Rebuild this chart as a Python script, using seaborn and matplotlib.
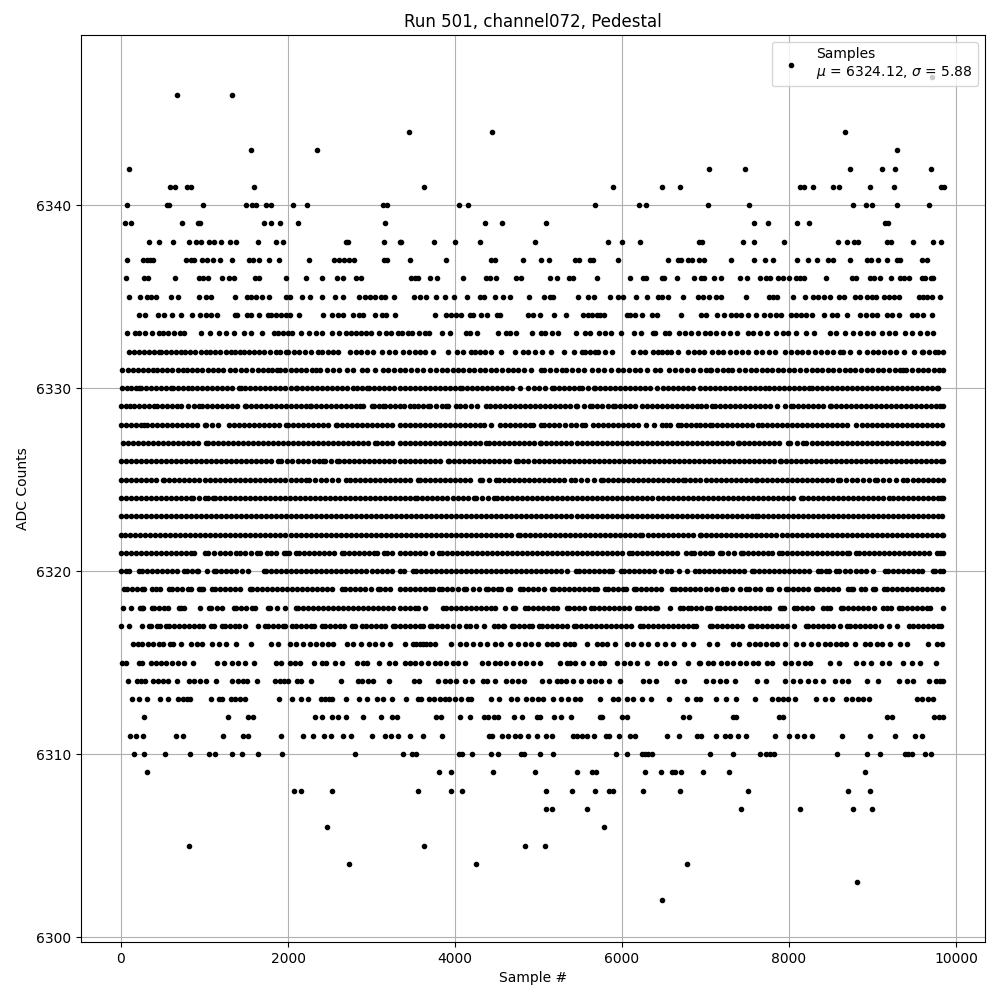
import pandas as pd
import matplotlib
matplotlib.use("Agg")
import matplotlib.pyplot as plt
import seaborn as sns

# sample numbers, one list per ADC level
s6347 = [9716]
s6346 = [668, 1328]
s6344 = [3448, 4444, 8672]
s6343 = [1556, 2348, 9296]
s6342 = [92, 7040, 7472, 8732, 9116, 9272, 9704]
s6341 = [584, 644, 792, 840, 1592, 3628, 5896, 6484, 6700, 8136, 8176, 8288, 8532, 8600, 8972, 9260, 9816, 9856]
s6340 = [68, 552, 572, 980, 1496, 1564, 1620, 1732, 1796, 2060, 2228, 3140, 3188, 4048, 4156, 5680, 6208, 6292, 7028, 7520, 8768, 8924, 8996, 9296, 9680]
s6339 = [52, 120, 728, 920, 952, 1712, 1796, 1904, 2120, 3164, 4360, 4564, 5092, 7580, 7748, 8096, 8240, 9148, 9180]
s6338 = [332, 452, 620, 812, 896, 956, 1048, 1116, 1196, 1304, 1376, 1640, 1856, 1940, 2692, 2724, 3152, 3340, 3356, 3748, 4000, 4300, 4960, 5836, 6004, 6220, 6924, 6960, 7448, 7580, 7940, 8588, 8696, 8780, 8832, 9168, 9220, 9488, 9728, 9824]
s6337 = [68, 260, 308, 348, 388, 780, 840, 880, 968, 1028, 1100, 1184, 1328, 1532, 1580, 1652, 1772, 1892, 2252, 2552, 2612, 2672, 2732, 2788, 3152, 3180, 3460, 3892, 4436, 4476, 4816, 5032, 5128, 5436, 5488, 5616, 5648, 5956, 6556, 6676, 6704, 6796, 6840, 6920, 6980, 7304, 7580, 7712, 7808, 8096, 8228, 8336, 8468, 8528, 8732, 8936, 8976, 9064, 9176, 9288, 9328, 9588, 9656]
s6336 = [56, 280, 328, 644, 936, 980, 1040, 1212, 1292, 1348, 1604, 1652, 1976, 2216, 2408, 2588, 2660, 2820, 2880, 3476, 3516, 3556, 3700, 3784, 4096, 4376, 4416, 4492, 4732, 4792, 5140, 5224, 5368, 5416, 5704, 6100, 6256, 6288, 6476, 6504, 6664, 6868, 6940, 6976, 7100, 7180, 7412, 7496, 7652, 7720, 7768, 7868, 7928, 7996, 8080, 8128, 8184, 8444, 8756, 8808, 8968, 9016, 9084, 9224, 9328, 9376, 9436, 9588, 9628, 9696, 9728]
s6335 = [100, 224, 312, 360, 416, 596, 680, 932, 1020, 1080, 1364, 1508, 1560, 1620, 1692, 1772, 1980, 2028, 2168, 2264, 2408, 2564, 2660, 2852, 2928, 2984, 3040, 3116, 3164, 3272, 3508, 3580, 3652, 3768, 3884, 3988, 4144, 4300, 4348, 4480, 4576, 4660, 4888, 5068, 5136, 5176, 5468, 5596, 5668, 5860, 5956, 6016, 6172, 6304, 6436, 6476, 6548, 6736, 6908, 6968, 7040, 7120, 7188, 7484, 7756, 7808, 7856, 8048, 8192, 8288, 8348, 8416, 8492, 8596, 8656, 8796, 8856, 8928, 8988, 9040, 9136, 9196, 9256, 9316, 9560, 9608, 9656, 9712, 9812]
s6334 = [212, 292, 444, 520, 608, 716, 856, 952, 1012, 1080, 1148, 1360, 1392, 1508, 1552, 1652, 1760, 1796, 1860, 1920, 1972, 2020, 2132, 2420, 2528, 2600, 2660, 2780, 2852, 2900, 3044, 3120, 3172, 3284, 3760, 3896, 3956, 4016, 4076, 4184, 4216, 4316, 4384, 4504, 4544, 4876, 4936, 5016, 5188, 5328, 5536, 5596, 5636, 5696, 5736, 5784, 6056, 6096, 6160, 6244, 6364, 6424, 6712, 6940, 7008, 7136, 7220, 7308, 7368, 7428, 7508, 7604, 7696, 7768, 7840, 7908, 8020, 8088, 8148, 8208, 8280, 8420, 8520, 8580, 8692, 8852, 8920, 8988, 9048, 9176, 9228, 9316, 9468, 9528, 9608, 9708]
s6333 = [68, 172, 212, 288, 368, 460, 500, 568, 632, 712, 760, 964, 1060, 1172, 1252, 1352, 1472, 1560, 1692, 1832, 1880, 1940, 2000, 2052, 2152, 2248, 2332, 2404, 2528, 2612, 2692, 2760, 2812, 2880, 2940, 2988, 3084, 3172, 3228, 3312, 3368, 3436, 3488, 3564, 3636, 3688, 3844, 3940, 4128, 4184, 4264, 4520, 4608, 4656, 4732, 4924, 5032, 5080, 5160, 5236, 5452, 5560, 5616, 5728, 5796, 5864, 5992, 6148, 6232, 6368, 6396, 6516, 6560, 6688, 6756, 6828, 6908, 6988, 7048, 7120, 7208, 7288, 7376, 7508, 7568, 7648, 7736, 7848, 7928, 7990, 8080, 8208, 8296, 8488, 8568, 8668, 8768, 8848, 8928, 9008, 9108, 9200, 9268, 9388, 9468, 9568, 9648, 9728]
s6332 = [92, 150, 210, 270, 332, 400, 452, 480, 540, 600, 655, 715, 770, 830, 890, 955, 1020, 1060, 1125, 1190, 1255, 1320, 1360, 1420, 1468, 1530, 1590, 1650, 1710, 1790, 1852, 1900, 1980, 2004, 2070, 2135, 2200, 2280, 2360, 2412, 2480, 2540, 2600, 2748, 2810, 2880, 2950, 3012, 3120, 3204, 3280, 3376, 3450, 3520, 3584, 3636, 3736, 3912, 4024, 4100, 4196, 4236, 4300, 4356, 4436, 4552, 4720, 4816, 4880, 4960, 5036, 5152, 5308, 5424, 5516, 5556, 5620, 5676, 5716, 5800, 5876, 6136, 6210, 6276, 6376, 6436, 6476, 6536, 6584, 6668, 6796, 6860, 6916, 6976, 7080, 7148, 7208, 7290, 7360, 7440, 7508, 7608, 7680, 7760, 7832, 7948, 8020, 8090, 8160, 8228, 8308, 8380, 8450, 8530, 8608, 8648, 8736, 8840, 8928, 9000, 9070, 9140, 9208, 9276, 9380, 9496, 9588, 9608, 9680, 9748, 9788, 9840]
s6331 = [8, 80, 140, 200, 260, 320, 380, 428, 490, 550, 610, 680, 740, 788, 850, 915, 975, 1040, 1100, 1160, 1220, 1300, 1370, 1440, 1500, 1572, 1635, 1700, 1765, 1810, 1868, 1900, 1965, 2030, 2095, 2160, 2220, 2285, 2340, 2380, 2468, 2540, 2610, 2708, 2780, 2892, 2952, 3040, 3132, 3200, 3270, 3340, 3400, 3470, 3540, 3620, 3704, 3776, 3840, 3905, 3970, 4035, 4100, 4165, 4230, 4295, 4360, 4430, 4495, 4560, 4630, 4695, 4760, 4824, 4916, 5024, 5064, 5140, 5210, 5276, 5324, 5400, 5475, 5544, 5636, 5710, 5790, 5870, 5956, 6016, 6080, 6150, 6220, 6300, 6396, 6456, 6568, 6640, 6705, 6775, 6850, 6936, 7000, 7048, 7068, 7135, 7205, 7265, 7320, 7400, 7468, 7540, 7610, 7680, 7736, 7800, 7865, 7930, 8000, 8065, 8130, 8200, 8270, 8336, 8396, 8465, 8530, 8600, 8665, 8730, 8795, 8860, 8930, 8995, 9060, 9130, 9195, 9265, 9330, 9368, 9400, 9470, 9540, 9605, 9670, 9735, 9800, 9840]
s6330 = [12, 70, 125, 180, 220, 240, 300, 360, 420, 480, 540, 600, 620, 680, 740, 800, 855, 915, 975, 1035, 1095, 1155, 1215, 1275, 1335, 1412, 1432, 1490, 1550, 1610, 1670, 1730, 1790, 1850, 1910, 1970, 2030, 2100, 2108, 2165, 2225, 2285, 2345, 2405, 2465, 2525, 2585, 2645, 2705, 2780, 2828, 2890, 2948, 2972, 3030, 3090, 3150, 3210, 3275, 3340, 3400, 3460, 3520, 3580, 3640, 3700, 3760, 3820, 3876, 3936, 4000, 4056, 4080, 4140, 4200, 4260, 4320, 4380, 4440, 4500, 4560, 4620, 4680, 4776, 4876, 4940, 5010, 5080, 5156, 5184, 5245, 5305, 5365, 5425, 5484, 5516, 5590, 5664, 5676, 5740, 5800, 5860, 5920, 5980, 6040, 6100, 6160, 6220, 6280, 6340, 6416, 6488, 6550, 6610, 6670, 6730, 6790, 6850, 6936, 6990, 7050, 7110, 7170, 7230, 7290, 7350, 7410, 7470, 7530, 7590, 7650, 7708, 7760, 7820, 7880, 7940, 8000, 8060, 8120, 8180, 8240, 8276, 8335, 8395, 8455, 8515, 8575, 8635, 8695, 8755, 8815, 8875, 8935, 8995, 9055, 9115, 9175, 9235, 9295, 9355, 9415, 9475, 9535, 9595, 9655, 9715, 9775, 9790]
s6329 = [0, 55, 110, 160, 220, 280, 340, 400, 428, 490, 550, 610, 670, 720, 800, 870, 940, 968, 1030, 1090, 1150, 1210, 1270, 1330, 1390, 1480, 1500, 1560, 1620, 1680, 1740, 1800, 1860, 1920, 1980, 2040, 2100, 2160, 2220, 2268, 2280, 2340, 2400, 2460, 2520, 2580, 2640, 2700, 2760, 2820, 2868, 2900, 3000, 3028, 3085, 3132, 3160, 3220, 3280, 3340, 3395, 3456, 3504, 3560, 3620, 3676, 3704, 3770, 3840, 3896, 3916, 4008, 4056, 4120, 4190, 4260, 4368, 4420, 4476, 4536, 4600, 4660, 4720, 4780, 4840, 4900, 4960, 5020, 5080, 5140, 5200, 5260, 5320, 5380, 5448, 5464, 5540, 5616, 5636, 5700, 5760, 5830, 5896, 5916, 5980, 6040, 6100, 6156, 6236, 6300, 6360, 6420, 6480, 6540, 6600, 6660, 6720, 6780, 6840, 6896, 6950, 7010, 7080, 7108, 7170, 7230, 7290, 7350, 7410, 7470, 7530, 7590, 7650, 7710, 7770, 7856, 7948, 8028, 8048, 8110, 8170, 8230, 8290, 8350, 8410, 8488, 8500, 8560, 8620, 8680, 8740, 8800, 8860, 8920, 8980, 9040, 9100, 9160, 9220, 9280, 9340, 9400, 9460, 9520, 9580, 9640, 9700, 9760, 9810, 9850]
s6328 = [-4, 60, 120, 180, 240, 280, 308, 370, 430, 490, 550, 610, 670, 730, 790, 850, 910, 1000, 1020, 1090, 1160, 1292, 1350, 1410, 1470, 1530, 1590, 1650, 1710, 1770, 1830, 1890, 1972, 2000, 2060, 2120, 2180, 2240, 2300, 2360, 2420, 2480, 2572, 2588, 2650, 2710, 2770, 2830, 2890, 2950, 3010, 3070, 3130, 3190, 3250, 3340, 3400, 3460, 3520, 3580, 3640, 3700, 3760, 3816, 3876, 3940, 4000, 4060, 4120, 4180, 4240, 4296, 4352, 4436, 4536, 4596, 4660, 4720, 4780, 4840, 4896, 4936, 5024, 5064, 5130, 5190, 5250, 5320, 5390, 5450, 5516, 5560, 5648, 5710, 5770, 5830, 5890, 5950, 6010, 6070, 6130, 6190, 6288, 6384, 6476, 6524, 6576, 6676, 6708, 6770, 6830, 6890, 6936, 6990, 7048, 7076, 7140, 7200, 7260, 7320, 7380, 7440, 7500, 7560, 7628, 7680, 7740, 7800, 7860, 7920, 7980, 8040, 8100, 8160, 8220, 8280, 8340, 8400, 8460, 8520, 8580, 8640, 8700, 8808, 8872, 8930, 8990, 9050, 9110, 9170, 9230, 9290, 9350, 9410, 9470, 9530, 9590, 9650, 9710, 9770, 9830]
s6327 = [20, 80, 140, 200, 260, 320, 380, 440, 500, 560, 620, 680, 740, 800, 860, 920, 1020, 1040, 1100, 1160, 1220, 1280, 1340, 1400, 1460, 1520, 1580, 1640, 1700, 1760, 1820, 1880, 1940, 2000, 2060, 2120, 2180, 2240, 2300, 2360, 2420, 2480, 2540, 2600, 2660, 2720, 2780, 2840, 2900, 2960, 3040, 3068, 3130, 3190, 3250, 3340, 3400, 3460, 3520, 3580, 3640, 3700, 3760, 3820, 3880, 3940, 4000, 4060, 4120, 4180, 4240, 4300, 4376, 4408, 4470, 4530, 4590, 4650, 4710, 4770, 4830, 4890, 4950, 5016, 5032, 5095, 5155, 5215, 5275, 5335, 5395, 5455, 5515, 5575, 5635, 5695, 5755, 5815, 5875, 5935, 5995, 6055, 6115, 6175, 6235, 6295, 6355, 6415, 6475, 6535, 6595, 6655, 6715, 6775, 6835, 6895, 6955, 7015, 7075, 7135, 7195, 7255, 7315, 7388, 7400, 7460, 7520, 7580, 7640, 7700, 7760, 7820, 7880, 7988, 8008, 8090, 8168, 8208, 8270, 8330, 8390, 8450, 8510, 8570, 8630, 8690, 8750, 8810, 8870, 8930, 8990, 9050, 9110, 9170, 9230, 9290, 9350, 9410, 9470, 9530, 9590, 9650, 9710, 9770, 9830, 9850]
s6326 = [0, 60, 120, 180, 240, 300, 360, 420, 480, 540, 600, 660, 720, 780, 840, 900, 960, 1020, 1080, 1140, 1200, 1260, 1320, 1380, 1440, 1500, 1560, 1620, 1680, 1740, 1800, 1880, 1920, 1985, 2050, 2115, 2180, 2245, 2310, 2370, 2420, 2444, 2510, 2588, 2612, 2675, 2735, 2795, 2855, 2915, 2975, 3035, 3095, 3155, 3215, 3275, 3340, 3400, 3460, 3520, 3580, 3640, 3700, 3760, 3820, 3916, 3928, 3990, 4050, 4110, 4170, 4230, 4290, 4344, 4408, 4470, 4530, 4590, 4650, 4736, 4756, 4820, 4880, 4940, 5000, 5060, 5120, 5180, 5240, 5300, 5360, 5420, 5480, 5540, 5600, 5660, 5720, 5780, 5840, 5900, 5960, 6020, 6080, 6140, 6200, 6260, 6320, 6380, 6440, 6500, 6560, 6620, 6680, 6740, 6800, 6860, 6920, 6980, 7040, 7100, 7160, 7220, 7280, 7340, 7400, 7460, 7520, 7580, 7640, 7700, 7760, 7820, 7888, 7904, 7965, 8025, 8085, 8145, 8205, 8265, 8325, 8385, 8445, 8505, 8565, 8625, 8685, 8745, 8805, 8865, 8925, 8985, 9045, 9105, 9165, 9225, 9285, 9345, 9405, 9465, 9525, 9585, 9645, 9705, 9765, 9825, 9845]
s6325 = [0, 60, 120, 180, 240, 300, 360, 420, 508, 520, 580, 640, 700, 760, 820, 880, 940, 1000, 1060, 1120, 1180, 1240, 1300, 1360, 1420, 1480, 1540, 1600, 1660, 1720, 1780, 1840, 1908, 1960, 2030, 2100, 2160, 2220, 2252, 2320, 2390, 2460, 2530, 2600, 2700, 2740, 2800, 2860, 2920, 2980, 3040, 3100, 3160, 3220, 3280, 3340, 3400, 3460, 3556, 3584, 3645, 3705, 3765, 3825, 3885, 3945, 4005, 4065, 4125, 4185, 4296, 4328, 4410, 4496, 4524, 4585, 4645, 4705, 4765, 4825, 4885, 4945, 5005, 5065, 5125, 5185, 5245, 5305, 5388, 5436, 5510, 5580, 5660, 5748, 5768, 5830, 5890, 5950, 6010, 6070, 6130, 6190, 6250, 6310, 6370, 6430, 6490, 6550, 6610, 6670, 6728, 6756, 6820, 6880, 6936, 7000, 7060, 7120, 7180, 7240, 7300, 7360, 7420, 7480, 7540, 7600, 7616, 7680, 7740, 7800, 7860, 7920, 7980, 8040, 8100, 8160, 8220, 8280, 8340, 8400, 8460, 8520, 8588, 8608, 8680, 8750, 8820, 8890, 8960, 9028, 9056, 9130, 9200, 9280, 9368, 9416, 9480, 9540, 9600, 9660, 9720, 9780, 9845]
s6324 = [0, 60, 120, 180, 240, 300, 360, 420, 480, 540, 600, 660, 720, 780, 840, 860, 930, 1008, 1040, 1100, 1120, 1180, 1240, 1300, 1360, 1420, 1480, 1540, 1600, 1660, 1720, 1780, 1840, 1900, 1960, 2020, 2080, 2140, 2200, 2260, 2320, 2380, 2440, 2500, 2560, 2620, 2680, 2740, 2800, 2860, 2920, 2980, 3040, 3100, 3160, 3220, 3280, 3340, 3400, 3460, 3516, 3544, 3610, 3670, 3730, 3790, 3850, 3910, 3970, 4030, 4096, 4156, 4224, 4248, 4320, 4390, 4464, 4504, 4565, 4625, 4685, 4745, 4805, 4865, 4925, 4985, 5045, 5105, 5165, 5225, 5285, 5345, 5405, 5465, 5525, 5585, 5645, 5705, 5765, 5825, 5885, 5945, 6005, 6065, 6125, 6185, 6245, 6305, 6365, 6425, 6485, 6545, 6605, 6665, 6725, 6785, 6845, 6905, 6965, 7025, 7085, 7145, 7205, 7265, 7325, 7385, 7445, 7505, 7565, 7625, 7685, 7745, 7805, 7865, 7925, 7985, 8045, 8148, 8168, 8230, 8290, 8350, 8410, 8470, 8530, 8590, 8650, 8710, 8770, 8830, 8890, 8950, 9010, 9070, 9130, 9196, 9248, 9310, 9370, 9430, 9490, 9550, 9610, 9670, 9730, 9788, 9816, 9850]
s6323 = [0, 55, 115, 175, 235, 295, 355, 415, 475, 535, 595, 655, 715, 775, 835, 895, 955, 1015, 1075, 1135, 1195, 1255, 1315, 1375, 1435, 1495, 1555, 1615, 1675, 1735, 1795, 1855, 1915, 1975, 2035, 2095, 2155, 2215, 2275, 2335, 2395, 2455, 2515, 2575, 2635, 2695, 2755, 2815, 2875, 2935, 2995, 3055, 3115, 3175, 3235, 3295, 3355, 3415, 3475, 3535, 3595, 3655, 3715, 3775, 3835, 3895, 3955, 4015, 4075, 4135, 4195, 4255, 4315, 4375, 4435, 4495, 4555, 4615, 4675, 4735, 4795, 4855, 4915, 4975, 5035, 5095, 5155, 5215, 5275, 5335, 5395, 5455, 5515, 5575, 5635, 5695, 5755, 5815, 5875, 5935, 5995, 6055, 6115, 6175, 6235, 6295, 6355, 6415, 6475, 6535, 6595, 6655, 6715, 6775, 6835, 6895, 6955, 7015, 7075, 7135, 7195, 7255, 7315, 7375, 7435, 7495, 7555, 7608, 7628, 7690, 7750, 7810, 7870, 7930, 7990, 8050, 8110, 8170, 8230, 8290, 8350, 8410, 8470, 8530, 8590, 8650, 8710, 8770, 8830, 8890, 8950, 9010, 9070, 9130, 9190, 9250, 9310, 9370, 9430, 9490, 9550, 9610, 9670, 9730, 9790, 9835]
s6322 = [0, 50, 112, 170, 230, 290, 350, 410, 470, 530, 590, 650, 710, 770, 830, 890, 950, 1010, 1070, 1130, 1190, 1250, 1310, 1370, 1430, 1490, 1550, 1610, 1670, 1730, 1790, 1850, 1910, 1970, 2030, 2090, 2150, 2210, 2270, 2330, 2390, 2450, 2510, 2570, 2630, 2690, 2750, 2810, 2870, 2930, 2990, 3050, 3110, 3170, 3230, 3290, 3350, 3410, 3470, 3530, 3590, 3650, 3710, 3770, 3830, 3890, 3950, 4010, 4070, 4130, 4190, 4250, 4310, 4370, 4430, 4490, 4550, 4610, 4670, 4756, 4776, 4840, 4900, 4960, 5020, 5080, 5140, 5200, 5260, 5320, 5380, 5440, 5500, 5560, 5620, 5680, 5740, 5800, 5860, 5920, 5980, 6040, 6100, 6160, 6216, 6244, 6310, 6370, 6430, 6490, 6550, 6610, 6670, 6730, 6790, 6850, 6928, 6948, 7010, 7070, 7130, 7190, 7250, 7310, 7370, 7430, 7490, 7550, 7610, 7670, 7730, 7790, 7850, 7910, 7970, 8030, 8090, 8150, 8210, 8270, 8330, 8390, 8450, 8510, 8570, 8630, 8690, 8750, 8810, 8870, 8930, 8990, 9050, 9110, 9170, 9230, 9290, 9350, 9410, 9470, 9530, 9590, 9650, 9710, 9770, 9830, 9850]
s6321 = [0, 60, 120, 180, 240, 300, 360, 420, 480, 540, 600, 660, 720, 780, 840, 880, 1000, 1040, 1110, 1180, 1250, 1300, 1380, 1420, 1490, 1560, 1630, 1670, 1752, 1800, 1856, 1952, 1980, 2008, 2100, 2130, 2190, 2250, 2310, 2370, 2430, 2490, 2556, 2644, 2675, 2735, 2795, 2855, 2915, 2975, 3035, 3060, 3152, 3185, 3245, 3340, 3400, 3460, 3520, 3580, 3640, 3724, 3808, 3840, 3900, 3960, 4020, 4080, 4140, 4200, 4260, 4320, 4380, 4440, 4500, 4560, 4620, 4680, 4740, 4800, 4860, 4920, 4980, 5040, 5100, 5160, 5220, 5280, 5340, 5400, 5460, 5520, 5580, 5640, 5700, 5760, 5820, 5880, 5940, 6004, 6088, 6120, 6180, 6240, 6300, 6360, 6420, 6480, 6540, 6600, 6664, 6768, 6828, 6860, 6936, 6990, 7050, 7076, 7168, 7200, 7270, 7336, 7420, 7450, 7510, 7570, 7630, 7690, 7750, 7796, 7880, 7910, 7970, 8030, 8090, 8150, 8210, 8270, 8330, 8390, 8450, 8510, 8570, 8630, 8690, 8716, 8808, 8840, 8900, 8960, 9020, 9080, 9140, 9200, 9260, 9320, 9380, 9440, 9500, 9560, 9620, 9676, 9772, 9810, 9850]
s6320 = [0, 60, 100, 220, 250, 310, 370, 430, 490, 550, 610, 668, 760, 790, 850, 910, 928, 1028, 1112, 1140, 1200, 1260, 1320, 1380, 1448, 1520, 1708, 1740, 1800, 1860, 1920, 1980, 2040, 2100, 2160, 2220, 2280, 2340, 2400, 2460, 2520, 2580, 2640, 2700, 2760, 2820, 2880, 2940, 3000, 3060, 3120, 3180, 3240, 3340, 3384, 3496, 3530, 3590, 3650, 3710, 3770, 3830, 3890, 3950, 4010, 4070, 4130, 4190, 4250, 4310, 4370, 4430, 4490, 4550, 4610, 4670, 4730, 4790, 4850, 4910, 4970, 5030, 5090, 5150, 5210, 5270, 5344, 5448, 5480, 5540, 5600, 5660, 5720, 5780, 5840, 5884, 5988, 6020, 6080, 6140, 6200, 6260, 6320, 6380, 6464, 6540, 6584, 6680, 6784, 6876, 6920, 6980, 7040, 7100, 7160, 7220, 7280, 7340, 7400, 7456, 7552, 7580, 7640, 7700, 7760, 7820, 7880, 7940, 8000, 8060, 8120, 8180, 8236, 8344, 8380, 8440, 8476, 8560, 8600, 8670, 8736, 8808, 8868, 8916, 9008, 9152, 9190, 9250, 9310, 9370, 9430, 9490, 9550, 9596, 9720, 9750, 9810, 9840]
s6319 = [40, 70, 130, 190, 250, 276, 372, 420, 468, 580, 610, 670, 730, 800, 836, 932, 960, 988, 1092, 1120, 1180, 1240, 1300, 1360, 1428, 1540, 1570, 1630, 1690, 1750, 1810, 1870, 1930, 1990, 2050, 2110, 2170, 2230, 2290, 2350, 2410, 2470, 2528, 2652, 2680, 2740, 2800, 2860, 2920, 2988, 3072, 3100, 3160, 3220, 3340, 3400, 3460, 3520, 3580, 3640, 3700, 3736, 3808, 3840, 3900, 3960, 4032, 4112, 4136, 4220, 4284, 4368, 4400, 4460, 4520, 4552, 4632, 4656, 4776, 4810, 4870, 4930, 4990, 5064, 5156, 5190, 5250, 5310, 5370, 5430, 5490, 5550, 5610, 5670, 5704, 5800, 5830, 5890, 5950, 6010, 6052, 6140, 6170, 6230, 6290, 6350, 6410, 6464, 6600, 6630, 6690, 6750, 6810, 6870, 6936, 7000, 7060, 7136, 7212, 7250, 7320, 7408, 7488, 7520, 7590, 7648, 7752, 7790, 7876, 7960, 7990, 8050, 8110, 8170, 8224, 8320, 8350, 8410, 8470, 8530, 8584, 8704, 8740, 8768, 8868, 8908, 9008, 9024, 9140, 9170, 9230, 9290, 9350, 9410, 9470, 9530, 9590, 9650, 9710, 9770, 9836]
s6318 = [20, 120, 232, 250, 268, 372, 400, 460, 520, 568, 692, 720, 756, 948, 1052, 1080, 1150, 1208, 1352, 1380, 1440, 1500, 1570, 1608, 1760, 1788, 1872, 1968, 2092, 2120, 2180, 2240, 2300, 2360, 2420, 2480, 2540, 2600, 2660, 2720, 2780, 2840, 2900, 2960, 3020, 3080, 3140, 3200, 3260, 3340, 3400, 3460, 3520, 3552, 3640, 3856, 3890, 3950, 4010, 4070, 4130, 4190, 4250, 4310, 4370, 4430, 4484, 4600, 4696, 4716, 4840, 4870, 4930, 4990, 5050, 5110, 5170, 5216, 5340, 5370, 5430, 5490, 5544, 5628, 5660, 5720, 5780, 5840, 5900, 5960, 6020, 6084, 6180, 6210, 6270, 6330, 6390, 6424, 6580, 6696, 6730, 6790, 6824, 6888, 6948, 7020, 7048, 7140, 7170, 7230, 7290, 7350, 7410, 7470, 7530, 7590, 7650, 7710, 7756, 7888, 7910, 7936, 8060, 8090, 8150, 8210, 8276, 8412, 8450, 8488, 8620, 8650, 8710, 8770, 8830, 8890, 8950, 9016, 9128, 9170, 9216, 9320, 9350, 9410, 9470, 9530, 9590, 9650, 9688, 9848]
s6317 = [0, 92, 248, 332, 360, 430, 468, 540, 570, 630, 690, 750, 810, 870, 930, 980, 1072, 1108, 1204, 1240, 1300, 1370, 1408, 1488, 1640, 1724, 1760, 1820, 1880, 1940, 1968, 2052, 2090, 2150, 2210, 2270, 2308, 2404, 2440, 2500, 2560, 2620, 2668, 2772, 2800, 2892, 2930, 2990, 3050, 3110, 3156, 3252, 3280, 3340, 3400, 3460, 3520, 3580, 3616, 3696, 3730, 3790, 3850, 3910, 3970, 4044, 4136, 4180, 4248, 4352, 4472, 4510, 4570, 4592, 4680, 4710, 4770, 4830, 4890, 4924, 5008, 5040, 5100, 5160, 5220, 5280, 5336, 5420, 5450, 5510, 5570, 5630, 5690, 5750, 5810, 5870, 5930, 5990, 6050, 6104, 6216, 6250, 6310, 6370, 6430, 6490, 6550, 6610, 6670, 6730, 6790, 6850, 6884, 7048, 7080, 7140, 7200, 7260, 7320, 7380, 7436, 7528, 7560, 7620, 7680, 7740, 7800, 7860, 7920, 7980, 8056, 8200, 8230, 8290, 8350, 8410, 8470, 8530, 8608, 8700, 8730, 8790, 8850, 8910, 8970, 9030, 9096, 9200, 9296, 9440, 9480, 9540, 9600, 9660, 9720, 9780, 9816]
s6316 = [140, 200, 252, 320, 380, 452, 500, 588, 628, 716, 840, 908, 972, 1092, 1172, 1252, 1372, 1560, 1796, 1880, 2028, 2100, 2180, 2260, 2340, 2412, 2480, 2540, 2708, 2780, 2880, 2972, 3040, 3120, 3220, 3396, 3496, 3536, 3576, 3616, 3656, 3696, 3756, 3956, 4056, 4136, 4216, 4296, 4384, 4476, 4556, 4656, 4756, 4836, 4916, 4996, 5096, 5156, 5224, 5316, 5376, 5424, 5576, 5696, 5756, 5816, 5916, 6064, 6136, 6224, 6316, 6416, 6516, 6616, 6744, 6856, 7036, 7136, 7328, 7400, 7520, 7588, 7656, 7728, 7800, 7856, 7948, 8088, 8168, 8268, 8348, 8428, 8488, 8568, 8628, 8688, 8788, 8908, 8968, 9048, 9108, 9208, 9328, 9408, 9668, 9768, 9828]
s6315 = [8, 60, 220, 248, 360, 420, 480, 540, 612, 680, 760, 860, 1148, 1228, 1332, 1400, 1480, 1592, 1856, 1920, 2020, 2080, 2140, 2312, 2412, 2460, 2564, 2648, 2828, 2900, 2952, 3092, 3212, 3280, 3396, 3456, 3516, 3596, 3676, 3756, 3816, 3896, 3976, 4036, 4116, 4328, 4396, 4476, 4536, 4608, 4696, 4776, 4856, 4936, 5016, 5260, 5336, 5376, 5436, 5528, 5636, 5736, 5784, 5936, 6024, 6096, 6176, 6296, 6456, 6524, 6624, 6792, 6916, 6928, 7028, 7088, 7188, 7256, 7328, 7408, 7488, 7568, 7628, 7736, 7800, 7948, 8028, 8108, 8188, 8248, 8496, 8600, 8808, 8888, 8976, 9112, 9200, 9368, 9468, 9568, 9764]
s6314 = [80, 188, 240, 288, 380, 440, 500, 560, 668, 812, 880, 952, 1012, 1136, 1328, 1400, 1460, 1508, 1632, 1844, 1904, 1952, 2000, 2108, 2152, 2272, 2636, 2840, 2888, 2960, 3020, 3212, 3504, 3568, 3800, 3876, 3936, 4008, 4116, 4208, 4336, 4384, 4476, 4616, 4688, 4756, 4824, 5044, 5128, 5216, 5268, 5328, 5416, 5512, 5608, 5676, 5748, 5848, 5976, 6256, 6328, 6408, 6656, 6744, 7008, 7088, 7168, 7248, 7352, 7620, 7724, 7948, 8048, 8128, 8228, 8308, 8408, 8552, 8640, 8708, 8936, 9068, 9320, 9408, 9480, 9680, 9760, 9808, 9850]
s6313 = [132, 216, 308, 468, 560, 684, 740, 788, 828, 1076, 1172, 1204, 1316, 1364, 1424, 1480, 1892, 2052, 2156, 2240, 2392, 2440, 2492, 2532, 2696, 2852, 2948, 3068, 3140, 3248, 3408, 3556, 3596, 3688, 3748, 3816, 3876, 3928, 3996, 4076, 4156, 4196, 4432, 4528, 4676, 4744, 4856, 4924, 4996, 5056, 5176, 5264, 5356, 5436, 5496, 5740, 5896, 5956, 6056, 6136, 6244, 6352, 6568, 6784, 6888, 6936, 7128, 7244, 7364, 7592, 7800, 7868, 7928, 7988, 8072, 8328, 8428, 8520, 8688, 8760, 8828, 8888, 8952, 9528, 9588, 9668, 9720]
s6312 = [272, 1280, 1520, 1584, 2320, 2412, 2532, 2600, 2692, 2900, 3112, 3248, 3308, 3776, 3836, 4056, 4180, 4344, 4396, 4468, 4520, 4708, 4804, 4984, 5016, 5188, 5272, 5392, 5736, 5764, 6000, 6064, 6736, 6804, 7328, 7368, 7880, 7928, 9168, 9236, 9740, 9796, 9848]
s6311 = [104, 176, 260, 664, 740, 1220, 1460, 1524, 1916, 2180, 2296, 2432, 2520, 2660, 2756, 3008, 3164, 3236, 3316, 3460, 3616, 3844, 4408, 4448, 4564, 4636, 4724, 4776, 4876, 4984, 5084, 5164, 5416, 5464, 5516, 5584, 5668, 5808, 5844, 5968, 6096, 6156, 6544, 6688, 6896, 6940, 7128, 7228, 7296, 7388, 7488, 7832, 8000, 8096, 8184, 8276, 8636, 8972, 9272, 9512, 9596]
s6310 = [152, 272, 524, 828, 1052, 1124, 1328, 1448, 1640, 1928, 2804, 3376, 3488, 3536, 4044, 4088, 4204, 4436, 4516, 4788, 4824, 5020, 5176, 5932, 6064, 6236, 6276, 6316, 6364, 7052, 7328, 7652, 7720, 7768, 7820, 8576, 8928, 9088, 9388, 9428, 9476, 9632, 9704]
s6309 = [308, 3808, 3952, 4456, 4960, 5464, 5644, 5684, 6280, 6472, 6596, 6636, 6712, 6968, 7280, 8912]
s6308 = [2072, 2156, 2528, 3556, 3952, 4084, 5092, 5404, 5680, 5848, 5896, 6256, 6700, 7508, 8708, 8972]
s6307 = [5092, 5164, 5584, 7424, 8132, 8768, 8996]
s6306 = [2468, 5788]
s6305 = [812, 3628, 4840, 5080]
s6304 = [2732, 4252, 6784]
s6303 = [8816]
s6302 = [6484]

levels = [6347, 6346, 6344, 6343, 6342, 6341, 6340, 6339, 6338, 6337, 6336, 6335, 6334, 6333,
          6332, 6331, 6330, 6329, 6328, 6327, 6326, 6325, 6324, 6323, 6322, 6321, 6320, 6319,
          6318, 6317, 6316, 6315, 6314, 6313, 6312, 6311, 6310, 6309, 6308, 6307, 6306, 6305,
          6304, 6303, 6302]
rows = [s6347, s6346, s6344, s6343, s6342, s6341, s6340, s6339, s6338, s6337, s6336, s6335, s6334, s6333,
        s6332, s6331, s6330, s6329, s6328, s6327, s6326, s6325, s6324, s6323, s6322, s6321, s6320, s6319,
        s6318, s6317, s6316, s6315, s6314, s6313, s6312, s6311, s6310, s6309, s6308, s6307, s6306, s6305,
        s6304, s6303, s6302]

df = pd.concat([pd.DataFrame({"sample": r, "adc": lev}) for lev, r in zip(levels, rows)])

fig = plt.figure(figsize=(10, 10))
ax = fig.add_axes([0.081, 0.058, 0.904, 0.907])
sns.lineplot(data=df, x="sample", y="adc", estimator=None, sort=False, color="k",
             linestyle="", marker=".", markersize=6, markeredgewidth=1, markeredgecolor="k",
             label="Samples\n$\\mu$ = 6324.12, $\\sigma$ = 5.88", ax=ax)
ax.set_xlim(-479, 10347)
ax.set_ylim(6299.73, 6349.3)
ax.grid(True)
ax.set_title("Run 501, channel072, Pedestal")
ax.set_xlabel("Sample #")
ax.set_ylabel("ADC Counts")
ax.legend(loc="upper right")
plt.savefig("out.png", dpi=100)
